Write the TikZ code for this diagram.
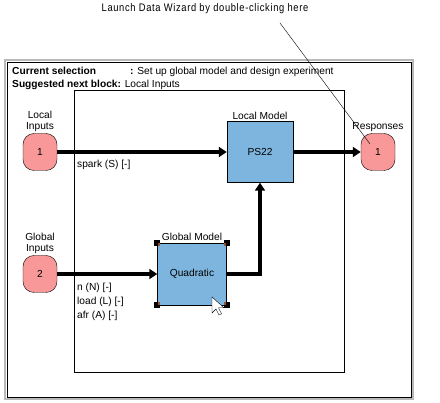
\documentclass[tikz,border=0pt]{standalone}
\usepackage{fontspec}
\setmainfont{Liberation Sans}
\newfontfamily\wizfont[FakeStretch=0.85,LetterSpace=6]{Liberation Sans}
\usetikzlibrary{arrows.meta}
\definecolor{inpink}{RGB}{248,152,152}
\definecolor{modblue}{RGB}{126,181,222}
\definecolor{handlebrown}{RGB}{150,85,45}
\begin{document}
\begin{tikzpicture}[x=1pt,y=-1pt,
    font=\fontsize{10.2}{11}\selectfont,
    port/.style={draw,fill=inpink,rounded corners=11pt,minimum width=34pt,minimum height=37pt,inner sep=0pt},
    model/.style={draw,fill=modblue,minimum width=66pt,minimum height=61pt,inner sep=0pt},
    blocklbl/.style={align=center,inner sep=1pt},
    sig/.style={anchor=west,align=left,inner sep=1pt},
    arr/.style={-{Triangle[length=8pt,width=10pt]},line width=3.5pt},
    handle/.style={fill=black,minimum size=6pt,inner sep=0pt},
    grip/.style={fill=handlebrown,minimum size=2.5pt,inner sep=0pt}
]
\useasboundingbox (0,0) rectangle (440,403);
% frames
\draw[gray!55,line width=1.5pt] (5,60) rectangle (413,399);
\draw[fill=white] (7,62) rectangle (411,397);
\draw (74,90) rectangle (344,372);
% header
\node[anchor=base west,inner sep=0pt] (cursel) at (12,75) {\textbf{Current selection}};
\node[anchor=base west,inner sep=0pt] (curtxt) at (130,75) {\textbf{:} Set up global model and design experiment};
\node[anchor=base west,inner sep=0pt] (nextblk) at (12,88) {\textbf{Suggested next block:} Local Inputs};
% blocks
\node[port,label={[blocklbl]above:Local\\Inputs}] (locin) at (40,152) {1};
\node[port,label={[blocklbl]above:Global\\Inputs}] (glbin) at (40,274) {2};
\node[port,label={[blocklbl]above:Responses}] (resp) at (378,152) {1};
\node[model,label={[blocklbl]above:Local Model}] (ps) at (260,152) {PS22};
\node[model,minimum width=69pt,minimum height=62pt,label={[blocklbl,label distance=1pt]above:Global Model}] (quad) at (192,274) {Quadratic};
\foreach \c/\dx/\dy in {north west/1.5/-1.5,north east/-1.5/-1.5,south west/1.5/1.5,south east/-1.5/1.5}{
  \node[handle] at (quad.\c) {};
  \node[grip] at ([xshift=\dx pt,yshift=\dy pt]quad.\c) {};
}
% signal names
\node[sig] (spark) at (76,165) {spark (S) [-]};
\node[sig,font=\fontsize{10.2}{14}\selectfont] (glbsig) at (76,302) {n (N) [-]\\load (L) [-]\\afr (A) [-]};
% connectors
\draw[arr] (locin) -- (ps);
\draw[arr] (ps) -- (resp);
\draw[arr] (glbin) -- (quad);
\draw[arr] (quad.east) -| (ps.south);
% wizard hint
\node[font=\wizfont\fontsize{11}{12}\selectfont] (wiz) at (205,9) {Launch Data Wizard by double-clicking here};
\coordinate (wizfrom) at (280,23);
\coordinate (wizto) at (370,144);
\draw (wizfrom) -- (wizto);
% mouse pointer
\draw[fill=white,line join=miter] (212,297) -- ++(0,16) -- ++(4,-4) -- ++(3,6) -- ++(2.5,-1.2) -- ++(-3,-6) -- ++(5.5,0) -- cycle;
\end{tikzpicture}
\end{document}
